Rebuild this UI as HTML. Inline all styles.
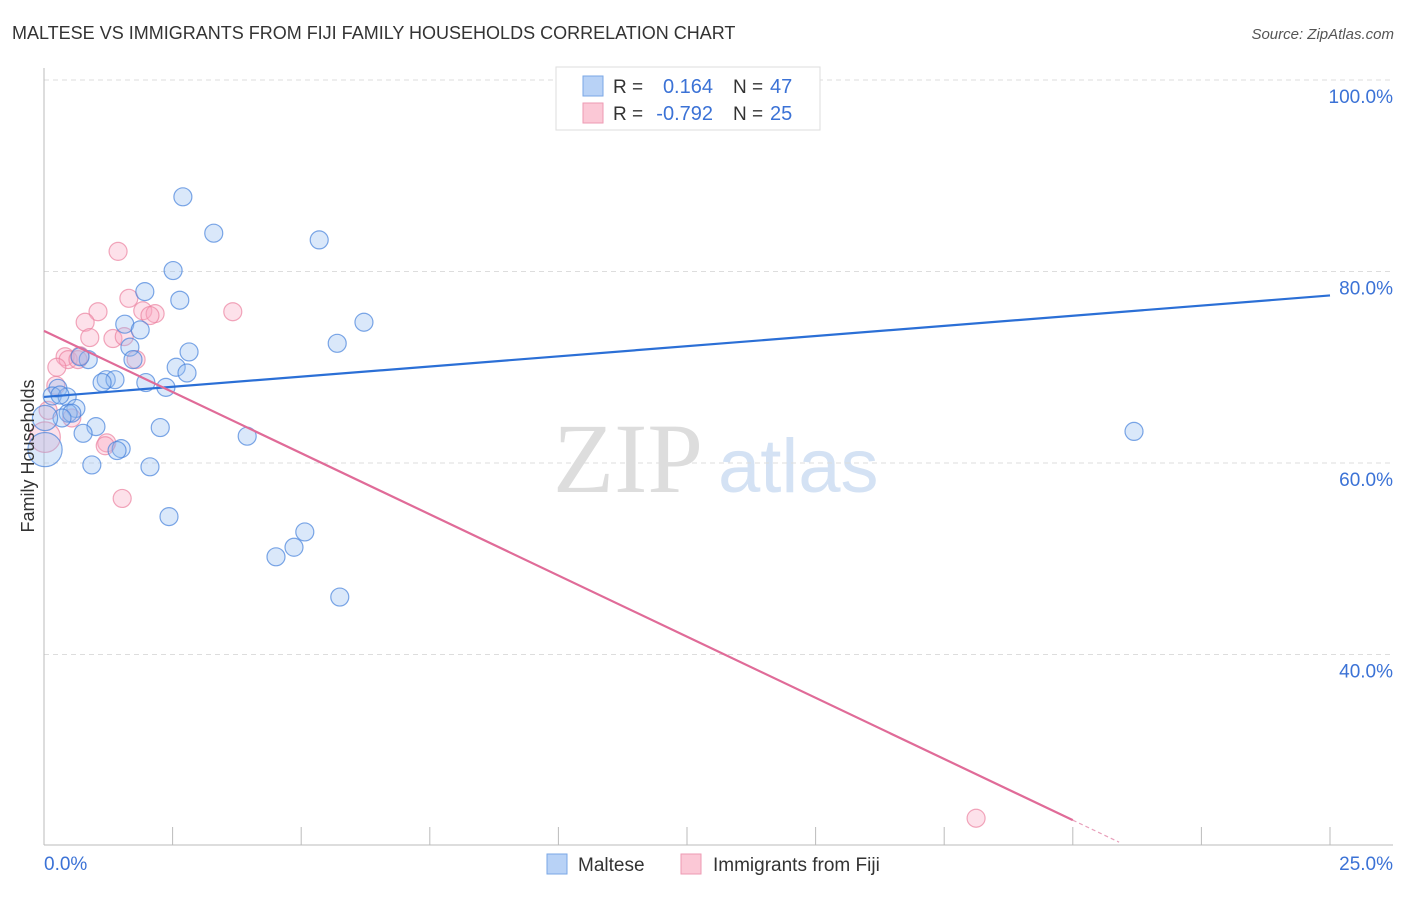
<!DOCTYPE html>
<html><head><meta charset="utf-8"><style>
body{margin:0;background:#fff;font-family:"Liberation Sans",sans-serif}
svg text{font-family:"Liberation Sans",sans-serif}
</style></head><body>
<svg id="chart" width="1406" height="892" xmlns="http://www.w3.org/2000/svg">
<text x="12" y="39" font-size="18" fill="#333">MALTESE VS IMMIGRANTS FROM FIJI FAMILY HOUSEHOLDS CORRELATION CHART</text>
<text x="1394" y="39" font-size="15" fill="#555" font-style="italic" text-anchor="end">Source: ZipAtlas.com</text>
<g>
<text x="553" y="492" font-size="100" fill="#ddd" font-family="Liberation Serif" style="font-family:'Liberation Serif',serif">ZIP</text>
<text x="718" y="492" font-size="76" fill="#d4e2f4">atlas</text>
</g>
<g id="grid"></g>
<g id="axes"></g>
<g id="pts"></g>
<g id="lines"></g>
<text transform="translate(34,456) rotate(-90)" font-size="18" fill="#333" text-anchor="middle">Family Households</text>
<g>
<rect x="556" y="67" width="264" height="63" fill="#fff" stroke="#ddd"/>
<rect x="583" y="76" width="20" height="20" fill="#b8d2f6" stroke="#7aa7e6"/>
<rect x="583" y="103" width="20" height="20" fill="#fbc8d6" stroke="#ee9ab3"/>
<text x="613" y="93" font-size="19" fill="#333">R =</text>
<text x="713" y="93" font-size="20" fill="#3b72d6" text-anchor="end">0.164</text>
<text x="733" y="93" font-size="19" fill="#333">N =</text>
<text x="770" y="93" font-size="20" fill="#3b72d6">47</text>
<text x="613" y="120" font-size="19" fill="#333">R =</text>
<text x="713" y="120" font-size="20" fill="#3b72d6" text-anchor="end">-0.792</text>
<text x="733" y="120" font-size="19" fill="#333">N =</text>
<text x="770" y="120" font-size="20" fill="#3b72d6">25</text>
</g>
<g>
<rect x="547" y="854" width="20" height="20" fill="#b8d2f6" stroke="#7aa7e6"/>
<text x="578" y="871" font-size="19" fill="#333">Maltese</text>
<rect x="681" y="854" width="20" height="20" fill="#fbc8d6" stroke="#ee9ab3"/>
<text x="713" y="871" font-size="19" fill="#333">Immigrants from Fiji</text>
</g>
</svg>
<script>
const yTicks=[100,80,60,40];
const yTickLabels=["100.0%","80.0%","60.0%","40.0%"];
const xTickLabels=["0.0%","25.0%"];
const blueX=[2.70,3.30,5.35,2.51,1.96,2.64,6.22,1.57,1.87,5.70,1.67,0.86,0.70,2.82,1.73,2.57,2.78,1.21,1.38,1.13,1.98,2.37,0.27,0.16,0.45,0.62,0.47,0.54,0.35,1.01,2.26,0.76,3.95,1.50,1.42,0.93,2.06,2.43,5.07,4.86,4.51,5.75,21.19,14.31,0.02,0.02,0.31];
const blueY=[87.8,84.0,83.3,80.1,77.9,77.0,74.7,74.5,73.9,72.5,72.1,70.8,71.1,71.6,70.8,70.0,69.4,68.7,68.7,68.4,68.4,67.9,67.8,67.0,66.9,65.7,65.2,65.2,64.7,63.8,63.7,63.1,62.8,61.5,61.3,59.8,59.6,54.4,52.8,51.2,50.2,46.0,63.3,100.2,64.7,61.4,67.1];
const blueSize=[1,1,1,1,1,1,1,1,1,1,1,1,1,1,1,1,1,1,1,1,1,1,1,1,1,1,1,1,1,1,1,1,1,1,1,1,1,1,1,1,1,1,1,1,1.4,1.9,1];
const pinkX=[1.44,1.65,1.05,3.67,1.92,2.16,0.80,0.89,1.34,1.56,0.41,0.47,0.66,1.79,0.25,0.23,0.54,0.02,1.22,1.19,1.52,18.12,0.70,2.06,0.08];
const pinkY=[82.1,77.2,75.8,75.8,75.9,75.6,74.7,73.1,73.0,73.2,71.1,70.8,70.8,70.8,70.0,68.1,64.7,62.7,62.1,61.8,56.3,22.9,71.2,75.4,65.5];
const pinkSize=[1,1,1,1,1,1,1,1,1,1,1,1,1,1,1,1,1,1.7,1,1,1,1,1,1,1];
const blueFit=[66.9,77.5];
const pinkFit=[73.8,22.7];
const NS="http://www.w3.org/2000/svg";
const X=v=>44+v*51.44;
const Y=v=>80+(100-v)*9.575;
function mk(tag,attrs,parent){const e=document.createElementNS(NS,tag);for(const k in attrs)e.setAttribute(k,attrs[k]);document.getElementById(parent).appendChild(e);return e;}
yTicks.forEach((t,i)=>{
 const g=mk('line',{x1:44,x2:1393,y1:Y(t),y2:Y(t),stroke:'#ddd','stroke-dasharray':'5,4'},'grid');
 
 
 const l=mk('text',{x:1393,y:Y(t)+23,'font-size':19,fill:'#3b72d6','text-anchor':'end'},'grid');
 l.textContent=yTickLabels[i];
 
 
});
const ax=mk('line',{x1:44,x2:44,y1:68,y2:845,stroke:'#bbb'},'axes');


const bx=mk('line',{x1:44,x2:1393,y1:845,y2:845,stroke:'#bbb'},'axes');


for(let i=1;i<=10;i++){
 const t=mk('line',{x1:X(i*2.5),x2:X(i*2.5),y1:827,y2:845,stroke:'#bbb'},'axes');
 
 
}
const xl0=mk('text',{x:44,y:870,'font-size':19,fill:'#3b72d6'},'axes');xl0.textContent=xTickLabels[0];


const xl1=mk('text',{x:1393,y:870,'font-size':19,fill:'#3b72d6','text-anchor':'end'},'axes');xl1.textContent=xTickLabels[1];


pinkX.forEach((v,i)=>{
 const c=mk('circle',{cx:X(v),cy:Y(pinkY[i]),r:9*pinkSize[i],fill:'rgba(248,170,194,0.35)',stroke:'rgba(235,130,160,0.7)','stroke-width':1.2},'pts');
 
 
});
blueX.forEach((v,i)=>{
 const c=mk('circle',{cx:X(v),cy:Y(blueY[i]),r:9*blueSize[i],fill:'rgba(150,190,240,0.35)',stroke:'rgba(70,130,220,0.7)','stroke-width':1.2},'pts');
 
 
});
const bl=mk('line',{x1:X(0),y1:Y(blueFit[0]),x2:X(25),y2:Y(blueFit[1]),stroke:'#2b6fd6','stroke-width':2.2},'lines');


const slope=(pinkFit[1]-pinkFit[0])/20;
const pl=mk('line',{x1:X(0),y1:Y(pinkFit[0]),x2:X(20),y2:Y(pinkFit[1]),stroke:'#e06b98','stroke-width':2.2},'lines');


const pd=mk('line',{x1:X(20),y1:Y(pinkFit[1]),x2:X(20.9),y2:Y(pinkFit[1]+slope*0.9),stroke:'#e8a0bb','stroke-width':1.2,'stroke-dasharray':'4,3'},'lines');


</script>
</body></html>
